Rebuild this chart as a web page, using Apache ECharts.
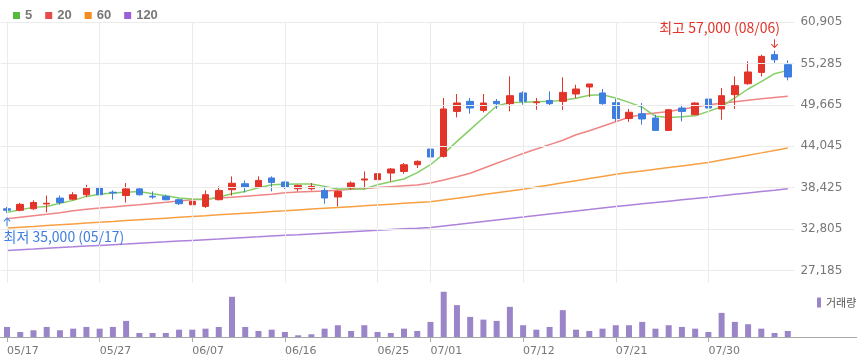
<!DOCTYPE html>
<html><head><meta charset="utf-8">
<script src="https://cdn.jsdelivr.net/npm/echarts@6/dist/echarts.min.js"></script>
<style>html,body{margin:0;padding:0;background:#fff}#c{width:857px;height:363px}</style>
</head><body><div id="c"></div>
<script>
const dates = ['05/17','05/20','05/21','05/22','05/23','05/24','05/25','05/27','05/28','05/29',
  '05/30','05/31','06/03','06/05','06/07','06/08','06/10','06/11','06/12','06/13',
  '06/14','06/16','06/17','06/18','06/19','06/20','06/21','06/24','06/25','06/26',
  '06/27','06/28','07/01','07/02','07/03','07/04','07/05','07/08','07/10','07/12',
  '07/13','07/15','07/16','07/17','07/18','07/19','07/21','07/22','07/23','07/24',
  '07/25','07/26','07/29','07/30','07/31','08/01','08/02','08/05','08/06','08/07'];
const tickLabelIdx = [0,7,14,21,28,32,39,46,53];

const opens  = [35550,35350,35550,36200,37000,36850,37450,38450,37800,37350,38250,37250,37230,36780,36100,35870,36780,38140,38950,38500,
  39730,39180,38270,38270,38040,37150,38370,39450,39500,40400,40620,41530,43660,42660,48770,50130,48910,50130,49820,51270,
  49950,50260,50130,51130,52080,51270,49950,47800,48450,47870,46190,49230,48320,50450,49100,51040,52530,54060,56470,55110];
const closes = [35350,36150,36400,36300,36400,37450,38350,37450,37700,38250,37450,37150,36780,36240,36550,37460,38040,39010,38500,39400,
  39130,38500,38720,38590,37010,37910,39050,39600,40310,40950,41530,41990,42580,49100,49910,49230,49910,49820,50900,50130,
  50050,49820,51350,51810,52490,49820,47800,48650,47740,46190,48990,48770,49910,49230,50900,52260,54120,56240,55790,53440];
const lows   = [35000,35200,35400,35050,36100,36700,37150,37150,36800,36400,37350,36900,36690,36060,35660,35660,36690,37330,37770,38370,
  37910,38240,37910,38040,36240,35870,38140,38270,39400,39270,40310,41080,41530,42500,47950,48460,48630,49100,48770,49680,
  48990,49540,48990,50590,50720,49680,47410,47350,46960,46190,46190,47410,48320,48180,47640,49100,52390,53520,55340,52980];
const highs  = [35800,36350,36700,37350,37350,37800,38800,39400,38050,39050,38500,37900,37460,36920,36880,38040,38590,39950,39400,39950,
  39950,39270,38820,39050,38590,38040,39270,40620,40490,41080,41760,42120,44700,50590,51130,50590,51130,50450,53520,51490,
  50590,51490,53390,52390,52490,51810,50450,49100,49910,48320,49100,49680,49990,50590,51940,53520,55560,56470,57000,55690];

const ma5   = [35060,35430,35740,35870,36310,36690,37230,37530,37690,37800,37910,37600,37330,37010,36880,36780,37150,37600,37910,38410,
  38820,38890,38910,38910,38590,38230,38230,38230,38820,39230,39590,40450,41530,43000,44700,46300,47900,49500,49990,50020,
  50090,50130,50290,50560,50970,51040,50590,49990,49340,48100,47950,48050,48190,48770,49410,50590,51810,52800,53890,54340];
const ma20  = [34200,34410,34610,34810,35020,35290,35490,35660,35790,35970,36100,36270,36440,36620,36780,36890,37010,37120,37260,37390,
  37530,37710,37820,37890,37950,38070,38190,38310,38430,38550,38670,38790,39035,39470,39905,40370,41050,41720,42390,43055,
  43665,44260,44860,45607,46150,46760,47370,47980,48350,48565,48770,49070,49380,49680,49880,50090,50290,50490,50670,50810];
const ma60  = [32940,33050,33160,33280,33390,33500,33610,33720,33830,33950,34060,34170,34280,34390,34500,34610,34730,34840,34950,35060,
  35170,35280,35400,35510,35620,35730,35840,35950,36070,36180,36290,36400,36510,36750,36990,37230,37480,37720,37960,38210,
  38500,38790,39080,39370,39650,39940,40230,40460,40690,40920,41140,41370,41600,41830,42160,42490,42820,43140,43470,43800];
const ma120 = [29900,30000,30090,30190,30290,30380,30480,30580,30680,30770,30870,30970,31060,31160,31260,31360,31450,31550,31650,31740,
  31840,31940,32030,32130,32230,32330,32430,32530,32630,32730,32830,32920,33020,33220,33420,33630,33830,34030,34230,34430,
  34640,34840,35040,35250,35450,35660,35860,36040,36220,36400,36580,36760,36940,37120,37310,37510,37700,37890,38080,38280];

const volumes = [100000,50000,67000,100000,67000,83000,100000,83000,100000,160000,40000,40000,40000,73000,73000,83000,100000,400000,100000,60000,
  73000,50000,17000,27000,83000,117000,60000,117000,50000,40000,83000,60000,150000,450000,317000,200000,173000,160000,300000,117000,
  73000,100000,267000,73000,60000,83000,117000,117000,150000,83000,117000,100000,83000,50000,240000,150000,127000,83000,40000,60000];

const yTicks = [27185,32805,38425,44045,49665,55285,60905];
const lowMark  = {idx: 0,  value: 35000, text: '최저 35,000 (05/17)'};
const highMark = {idx: 58, value: 57000, text: '최고 57,000 (08/06)'};

const UP = '#e3342a', DOWN = '#3d7ee0';
const C5 = '#86cf66', C20 = '#f08585', C60 = '#f7a043', C120 = '#ad82dc';
const LABEL = '#777';
const arrowUp = 'path://M5,0 L10,5 L9,6 L5.7,2.7 L5.7,12 L4.3,12 L4.3,2.7 L1,6 L0,5 Z';

const showIdx = (i) => tickLabelIdx.indexOf(i) >= 0;
const candles = dates.map((d, i) => [opens[i], closes[i], lows[i], highs[i]]);

const chart = echarts.init(document.getElementById('c'), null, {renderer: 'canvas'});
chart.setOption({
  animation: false,
  backgroundColor: '#fff',
  legend: [
    {
      left: 8, top: 4, icon: 'rect', itemWidth: 7, itemHeight: 7, itemGap: 13,
      textStyle: {color: LABEL, fontWeight: 'bold', fontSize: 13, fontFamily: 'Liberation Sans'},
      data: [
        {name: '5', itemStyle: {color: '#56b93c'}},
        {name: '20', itemStyle: {color: '#e84a4a'}},
        {name: '60', itemStyle: {color: '#f58a1f'}},
        {name: '120', itemStyle: {color: '#9d5fd6'}}
      ]
    },
    {
      left: 812, top: 292, icon: 'rect', itemWidth: 4, itemHeight: 10,
      textStyle: {color: '#555', fontSize: 11, fontFamily: 'Noto Sans CJK KR'},
      data: [{name: '거래량', itemStyle: {color: '#9b85c9'}}]
    }
  ],
  grid: [
    {left: 0.4, top: 22, width: 794, height: 261},
    {left: 0.4, top: 283, width: 794, height: 54},
    {left: 0, right: 0, top: 283, height: 54}
  ],
  xAxis: [
    {gridIndex: 0, type: 'category', data: dates, boundaryGap: true, show: false},
    {gridIndex: 1, type: 'category', data: dates, boundaryGap: true,
      axisLine: {show: false},
      axisTick: {show: true, alignWithLabel: true, interval: showIdx, length: 5, lineStyle: {color: '#aaa'}},
      axisLabel: {interval: showIdx, align: 'left', margin: 9, color: LABEL, fontSize: 11, fontFamily: 'DejaVu Sans'},
      splitLine: {show: false}},
    {gridIndex: 2, type: 'value', min: 0, max: 1, position: 'top',
      axisLine: {show: true, lineStyle: {color: '#a8a8a8'}}, axisTick: {show: false}, axisLabel: {show: false}, splitLine: {show: false}},
    {gridIndex: 2, type: 'value', min: 0, max: 1, position: 'bottom',
      axisLine: {show: true, lineStyle: {color: '#a8a8a8'}}, axisTick: {show: false}, axisLabel: {show: false}, splitLine: {show: false}}
  ],
  yAxis: [
    {gridIndex: 0, type: 'value', position: 'right', min: 25474, max: 60905, scale: true,
      axisLine: {show: false}, axisTick: {show: false, customValues: yTicks},
      axisLabel: {customValues: yTicks, color: LABEL, fontSize: 12, fontFamily: 'DejaVu Sans', margin: 6,
        padding: [4, 0, 0, 0], formatter: (v) => Number(v).toLocaleString('en-US')},
      splitLine: {show: false}},
    {gridIndex: 1, type: 'value', min: 0, max: 537000, show: false, splitLine: {show: false}},
    {gridIndex: 2, type: 'value', min: 0, max: 1, show: false, splitLine: {show: false}}
  ],
  series: [
    {
      name: 'gridlines', type: 'line', data: [], xAxisIndex: 0, yAxisIndex: 0, z: 1, silent: true,
      markLine: {
        silent: true, symbol: ['none', 'none'], label: {show: false}, animation: false,
        lineStyle: {color: '#ebebeb', type: 'solid', width: 1},
        emphasis: {disabled: true},
        data: tickLabelIdx.map(i => ({xAxis: dates[i]})).concat(yTicks.map(v => ({yAxis: v})))
      }
    },
    {name: '120', type: 'line', data: ma120, xAxisIndex: 0, yAxisIndex: 0, showSymbol: false, z: 2,
      lineStyle: {color: C120, width: 1.5}, itemStyle: {color: C120}},
    {name: '60', type: 'line', data: ma60, xAxisIndex: 0, yAxisIndex: 0, showSymbol: false, z: 2,
      lineStyle: {color: C60, width: 1.5}, itemStyle: {color: C60}},
    {name: '20', type: 'line', data: ma20, xAxisIndex: 0, yAxisIndex: 0, showSymbol: false, z: 2,
      lineStyle: {color: C20, width: 1.5}, itemStyle: {color: C20}},
    {name: '5', type: 'line', data: ma5, xAxisIndex: 0, yAxisIndex: 0, showSymbol: false, z: 2,
      lineStyle: {color: C5, width: 1.5}, itemStyle: {color: C5}},
    {
      name: 'price', type: 'candlestick', data: candles, xAxisIndex: 0, yAxisIndex: 0, z: 3, barWidth: 7,
      itemStyle: {color: UP, color0: DOWN, borderColor: UP, borderColor0: DOWN, borderWidth: 1},
      markPoint: {
        animation: false, silent: true,
        data: [
          {coord: [dates[lowMark.idx], lowMark.value], symbol: arrowUp, symbolSize: [7, 9], symbolOffset: [0, 9],
            itemStyle: {color: DOWN},
            label: {show: true, formatter: lowMark.text, position: [0, 19], align: 'left', verticalAlign: 'middle',
              color: DOWN, fontSize: 14, fontFamily: 'Noto Sans CJK KR'}},
          {coord: [dates[highMark.idx], highMark.value], symbol: arrowUp, symbolRotate: 180, symbolSize: [7, 9], symbolOffset: [0, -7],
            itemStyle: {color: UP},
            label: {show: true, formatter: highMark.text, position: [9, -12], align: 'right', verticalAlign: 'middle',
              color: UP, fontSize: 14, fontFamily: 'Noto Sans CJK KR'}}
        ]
      }
    },
    {name: '거래량', type: 'bar', data: volumes, xAxisIndex: 1, yAxisIndex: 1, barWidth: 6,
      itemStyle: {color: '#9b85c9'}}
  ]
});
</script>
</body></html>
